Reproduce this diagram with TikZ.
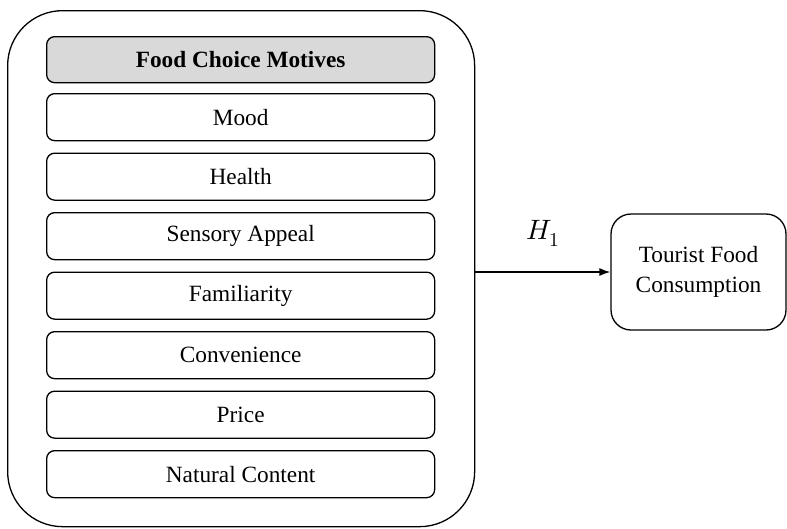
\documentclass[tikz,border=0pt]{standalone}
\usepackage{fontspec}
\usepackage{unicode-math}
\setmainfont{Liberation Serif}
\setmathfont{Latin Modern Math}
\usetikzlibrary{chains,calc,positioning,arrows.meta}

\begin{document}
\begin{tikzpicture}[x=1pt,y=-1pt,line width=1.3pt,node distance=11.2pt]
  \useasboundingbox (0,0) rectangle (787,528);
  \node[draw,rounded corners=55pt,anchor=north west,
    minimum width=467pt,minimum height=516pt] (frame) at (7,10) {};
  \begin{scope}[
    every node/.style={
      on chain,
      draw,
      rounded corners=8pt,
      align=center,
      inner sep=0pt,
      minimum width=388pt,
      minimum height=47pt,
      font=\fontsize{23.3}{27}\selectfont,
    },
    start chain=going below,
    ]
    \node[fill=gray!30,anchor=north west,minimum height=46pt,
      font=\fontsize{23.3}{27}\selectfont\bfseries] (motives) at (46,36)
      {Food Choice Motives};
    \node[below=9.7pt of motives] (mood) {Mood};
    \node (health)      {Health};
    \node (sensory)     {Sensory Appeal};
    \node (familiarity) {Familiarity};
    \node (convenience) {Convenience};
    \node (price)       {Price};
    \node (natural)     {Natural Content};
  \end{scope}
  \node[draw,rounded corners=20pt,align=center,inner sep=0pt,
    minimum width=175pt,minimum height=116pt,
    font=\fontsize{23.3}{30}\selectfont] (consumption) at (698.5,272)
    {Tourist Food\\Consumption};
  \begin{scope}[
    every path/.style={draw,>={Latex[length=11pt,width=8pt]}},
    ]
    \path[->] (frame.east |- consumption.west) -- node[above=22pt,
      font=\fontsize{28}{32}\selectfont]{$H_1$} (consumption.west);
  \end{scope}
\end{tikzpicture}
\end{document}
